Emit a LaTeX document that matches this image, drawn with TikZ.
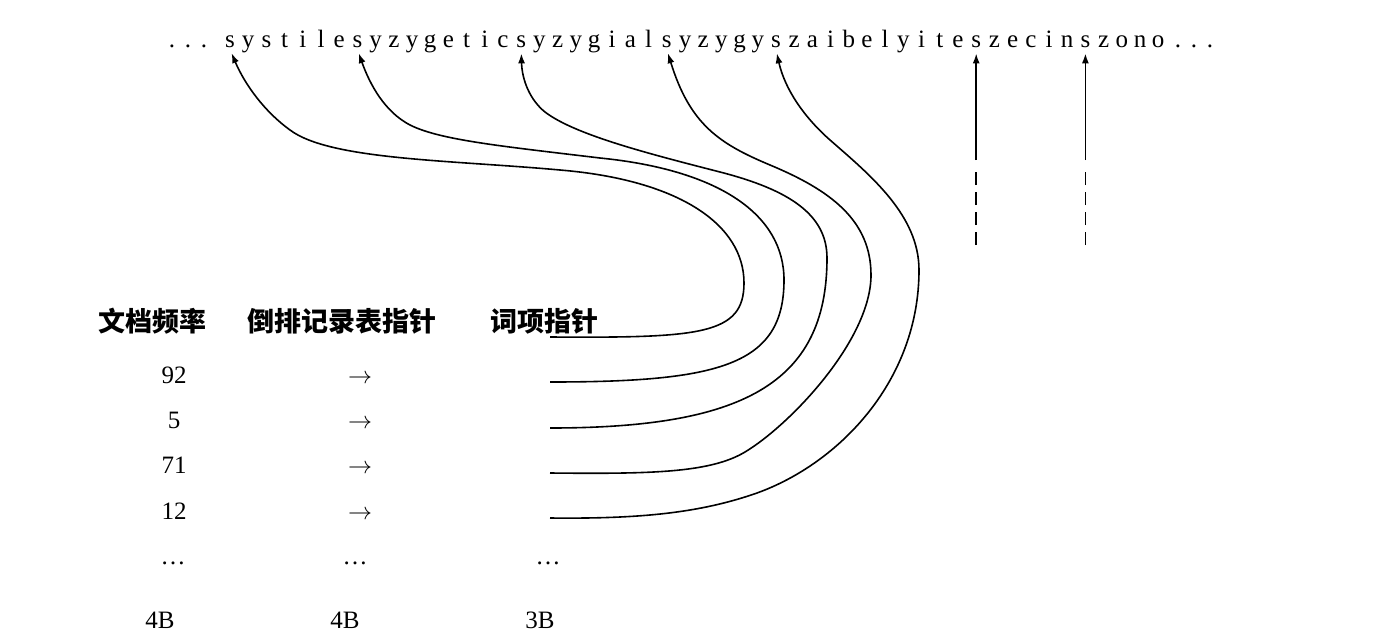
\documentclass[tikz,border=0pt]{standalone}
\usepackage{fontspec}
\setmainfont{Liberation Serif}
\newfontfamily\cjk{Noto Sans CJK SC}
\usetikzlibrary{arrows.meta}
\tikzset{
  letter/.style={anchor=base,inner sep=1pt,text depth=0pt,font=\fontsize{12.5}{15}\selectfont},
  cell/.style={anchor=base,inner sep=0pt,font=\fontsize{12.5}{15}\selectfont},
  hdr/.style={inner sep=0pt,font=\cjk\bfseries\fontsize{13.5}{16}\selectfont},
  ptr/.style={line width=0.8pt,-{Latex[length=5pt,width=3.5pt]},shorten >=2pt}
}
\begin{document}
\begin{tikzpicture}[x=0.5pt,y=-0.5pt]
  \useasboundingbox (0,0) rectangle (1388,638);
  % the term string
  \foreach \d in {1,2,3} \node[letter] (pre\d) at ({156+16*\d},47) {.};
  \foreach \ch [count=\i from 0] in {s,y,s,t,i,l,e,s,y,z,y,g,e,t,i,c,s,y,z,y,g,i,a,l,s,y,z,y,g,y,s,z,a,i,b,e,l,y,i,t,e,s,z,e,c,i,n,s,z,o,n,o}
    \node[letter] (c\i) at ({230+18.2*\i},47) {\ch};
  \foreach \d in {1,2,3} \node[letter] (post\d) at ({1162+16*\d},47) {.};

  % table
  \node[hdr] (hfreq) at (152,321) {文档频率};
  \node[hdr] (hpost) at (342,321) {倒排记录表指针};
  \node[hdr] (hterm) at (544,321) {词项指针};
  \foreach \v/\y [count=\r] in {92/383,5/428,71/473,12/519} {
    \node[cell] (f\r) at (174,\y) {\v};
    \node[cell] (a\r) at (360,\y) {$\rightarrow$};
  }
  \node[cell] (fdots) at (173,564) {\dots};
  \node[cell] (adots) at (355,564) {\dots};
  \node[cell] (tdots) at (548,564) {\dots};
  \node[cell] (fsize) at (160,628) {4B};
  \node[cell] (asize) at (345,628) {4B};
  \node[cell] (tsize) at (540,628) {3B};

  % term pointers
  \coordinate (p1) at (550,337);
  \coordinate (p2) at (550,382);
  \coordinate (p3) at (550,428);
  \coordinate (p4) at (550,473);
  \coordinate (p5) at (550,518);
  \draw[ptr] (p1) .. controls (700,338) and (744,335) .. (744,283)
    .. controls (744,225) and (680,180) .. (560,170)
    .. controls (450,160) and (330,160) .. (290,130)
    .. controls (265,112) and (245,85) .. (c0.south);
  \draw[ptr] (p2) .. controls (720,382) and (784,365) .. (784,280)
    .. controls (784,215) and (720,170) .. (600,158)
    .. controls (500,146) and (440,140) .. (410,125)
    .. controls (385,112) and (370,85) .. (c7.south);
  \draw[ptr] (p3) .. controls (740,428) and (827,385) .. (827,258)
    .. controls (827,215) and (790,190) .. (720,172)
    .. controls (650,154) and (575,135) .. (545,112)
    .. controls (530,100) and (522,80) .. (c16.south);
  \draw[ptr] (p4) .. controls (650,474) and (710,473) .. (745,452)
    .. controls (790,425) and (871,340) .. (871,275)
    .. controls (871,220) and (830,190) .. (770,165)
    .. controls (720,144) and (690,125) .. (c24.south);
  \draw[ptr] (p5) .. controls (640,519) and (700,513) .. (757,493)
    .. controls (840,463) and (919,380) .. (919,270)
    .. controls (919,215) and (870,175) .. (830,140)
    .. controls (805,118) and (785,90) .. (c30.south);

  % further terms
  \coordinate (v1top) at (c41 |- 0,160);
  \coordinate (v1gap) at (c41 |- 0,168);
  \coordinate (v1bot) at (c41 |- 0,245);
  \coordinate (v2top) at (c47 |- 0,160);
  \coordinate (v2gap) at (c47 |- 0,168);
  \coordinate (v2bot) at (c47 |- 0,245);
  \draw[ptr] (v1top) -- (c41.south);
  \draw[ptr] (v2top) -- (c47.south);
  \draw[line width=0.8pt,dash pattern=on 6.5pt off 3.5pt] (v1bot) -- (v1gap);
  \draw[line width=0.8pt,dash pattern=on 6.5pt off 3.5pt] (v2bot) -- (v2gap);
\end{tikzpicture}
\end{document}
